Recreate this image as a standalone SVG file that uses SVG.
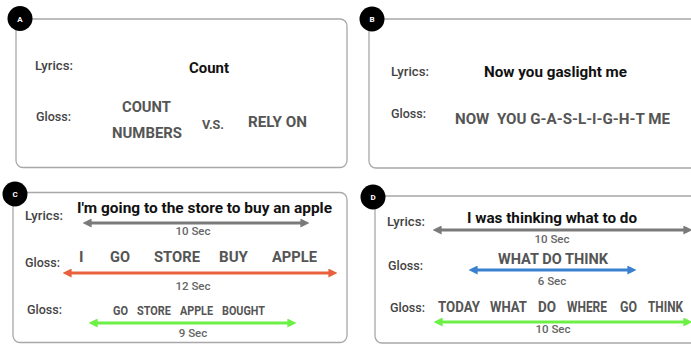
<svg xmlns="http://www.w3.org/2000/svg" width="691" height="345" viewBox="0 0 691 345">
  <style>
    .panel { fill: #ffffff; stroke: #a8a8a8; stroke-width: 1.3; }
    .badge { fill: #000000; }
    .badge-t { font-family: Roboto, "Liberation Sans", sans-serif; font-size: 8px; font-weight: bold; fill: #ffffff; text-anchor: middle; }
    .lab { font-family: Roboto, "Liberation Sans", sans-serif; font-size: 13px; font-weight: 500; fill: #444444; }
    .lyr { font-family: Roboto, "Liberation Sans", sans-serif; font-size: 15.5px; font-weight: bold; fill: #111111; text-anchor: middle; }
    .gl { font-family: Roboto, "Liberation Sans", sans-serif; font-size: 15.5px; font-weight: bold; fill: #555555; }
    .gls { font-family: Roboto, "Liberation Sans", sans-serif; font-size: 12px; font-weight: bold; fill: #555555; }
    .sec { font-family: Roboto, "Liberation Sans", sans-serif; font-size: 11.5px; font-weight: 500; fill: #666666; text-anchor: middle; }
    .arr { stroke-width: 3; fill: none; }
    .gray { stroke: #7a7a7a; }
    .red { stroke: #e9603c; }
    .green { stroke: #6cf046; }
    .blue { stroke: #3a80d0; }
  </style>
  <defs>
    <marker id="hGray" viewBox="0 0 10 10" refX="4" refY="5" markerWidth="9" markerHeight="9" markerUnits="userSpaceOnUse" orient="auto-start-reverse">
      <path d="M0,0 L10,5 L0,10 z" fill="#7a7a7a"/>
    </marker>
    <marker id="hRed" viewBox="0 0 10 10" refX="4" refY="5" markerWidth="9" markerHeight="9" markerUnits="userSpaceOnUse" orient="auto-start-reverse">
      <path d="M0,0 L10,5 L0,10 z" fill="#e9603c"/>
    </marker>
    <marker id="hGreen" viewBox="0 0 10 10" refX="4" refY="5" markerWidth="9" markerHeight="9" markerUnits="userSpaceOnUse" orient="auto-start-reverse">
      <path d="M0,0 L10,5 L0,10 z" fill="#6cf046"/>
    </marker>
    <marker id="hBlue" viewBox="0 0 10 10" refX="4" refY="5" markerWidth="9" markerHeight="9" markerUnits="userSpaceOnUse" orient="auto-start-reverse">
      <path d="M0,0 L10,5 L0,10 z" fill="#3a80d0"/>
    </marker>
  </defs>

  <!-- Panel A -->
  <g id="panelA">
    <rect class="panel" x="16" y="19" width="331" height="148.5" rx="7"/>
    <circle class="badge" cx="20" cy="18.5" r="12.5"/>
    <text class="badge-t" x="20" y="21.5">A</text>
    <text class="lab" x="35" y="70" textLength="38" lengthAdjust="spacingAndGlyphs">Lyrics:</text>
    <text class="lyr" x="209" y="73" textLength="40" lengthAdjust="spacingAndGlyphs">Count</text>
    <text class="lab" x="36" y="121" textLength="35" lengthAdjust="spacingAndGlyphs">Gloss:</text>
    <text class="gl" x="122" y="112" textLength="49" lengthAdjust="spacingAndGlyphs">COUNT</text>
    <text class="gl" x="112" y="138" textLength="70" lengthAdjust="spacingAndGlyphs">NUMBERS</text>
    <text class="gls" x="202" y="129" textLength="22" lengthAdjust="spacingAndGlyphs">V.S.</text>
    <text class="gl" x="248" y="127" textLength="59" lengthAdjust="spacingAndGlyphs">RELY ON</text>
  </g>

  <!-- Panel B -->
  <g id="panelB">
    <rect class="panel" x="369" y="19" width="340" height="149" rx="7"/>
    <circle class="badge" cx="372" cy="19" r="12.5"/>
    <text class="badge-t" x="372" y="22">B</text>
    <text class="lab" x="391" y="76" textLength="38" lengthAdjust="spacingAndGlyphs">Lyrics:</text>
    <text class="lyr" x="555.5" y="77" textLength="143" lengthAdjust="spacingAndGlyphs">Now you gaslight me</text>
    <text class="lab" x="391" y="118" textLength="35" lengthAdjust="spacingAndGlyphs">Gloss:</text>
    <text class="gl" x="455" y="124" textLength="215" lengthAdjust="spacingAndGlyphs" xml:space="preserve">NOW  YOU G-A-S-L-I-G-H-T ME</text>
  </g>

  <!-- Panel C -->
  <g id="panelC">
    <rect class="panel" x="13" y="192.5" width="334" height="150" rx="7"/>
    <circle class="badge" cx="15" cy="194" r="12.5"/>
    <text class="badge-t" x="15" y="197">C</text>
    <text class="lab" x="25" y="220" textLength="38" lengthAdjust="spacingAndGlyphs">Lyrics:</text>
    <text class="lyr" x="204.5" y="213" font-size="16.5" textLength="255" lengthAdjust="spacingAndGlyphs">I'm going to the store to buy an apple</text>
    <text class="sec" x="193" y="235">10 Sec</text>
    <text class="lab" x="25" y="267" textLength="35" lengthAdjust="spacingAndGlyphs">Gloss:</text>
    <text class="gl" x="79" y="262" font-size="16.5">I</text>
    <text class="gl" x="110" y="262" font-size="16.5" textLength="20" lengthAdjust="spacingAndGlyphs">GO</text>
    <text class="gl" x="154" y="262" font-size="16.5" textLength="46" lengthAdjust="spacingAndGlyphs">STORE</text>
    <text class="gl" x="219" y="262" font-size="16.5" textLength="29" lengthAdjust="spacingAndGlyphs">BUY</text>
    <text class="gl" x="272" y="262" font-size="16.5" textLength="45" lengthAdjust="spacingAndGlyphs">APPLE</text>
    <text class="sec" x="193" y="290">12 Sec</text>
    <text class="lab" x="27" y="314" textLength="35" lengthAdjust="spacingAndGlyphs">Gloss:</text>
    <text class="gls" x="113" y="315" textLength="15" lengthAdjust="spacingAndGlyphs">GO</text>
    <text class="gls" x="137" y="315" textLength="34" lengthAdjust="spacingAndGlyphs">STORE</text>
    <text class="gls" x="180" y="315" textLength="33" lengthAdjust="spacingAndGlyphs">APPLE</text>
    <text class="gls" x="222" y="315" textLength="43" lengthAdjust="spacingAndGlyphs">BOUGHT</text>
    <text class="sec" x="193" y="337">9 Sec</text>
  </g>

  <!-- Panel D -->
  <g id="panelD">
    <rect class="panel" x="375" y="196" width="340" height="147" rx="7"/>
    <circle class="badge" cx="373" cy="197" r="12.5"/>
    <text class="badge-t" x="373" y="200">D</text>
    <text class="lab" x="387" y="226" textLength="38" lengthAdjust="spacingAndGlyphs">Lyrics:</text>
    <text class="lyr" x="552" y="223" textLength="170" lengthAdjust="spacingAndGlyphs">I was thinking what to do</text>
    <text class="sec" x="552" y="243">10 Sec</text>
    <text class="lab" x="388" y="270" textLength="35" lengthAdjust="spacingAndGlyphs">Gloss:</text>
    <text class="gl" x="498" y="264" textLength="110" lengthAdjust="spacingAndGlyphs">WHAT DO THINK</text>
    <text class="sec" x="552" y="285">6 Sec</text>
    <text class="lab" x="390" y="312" textLength="35" lengthAdjust="spacingAndGlyphs">Gloss:</text>
    <text class="gl" x="438" y="312" font-size="13.5" textLength="42" lengthAdjust="spacingAndGlyphs">TODAY</text>
    <text class="gl" x="490" y="312" font-size="13.5" textLength="37" lengthAdjust="spacingAndGlyphs">WHAT</text>
    <text class="gl" x="538" y="312" font-size="13.5" textLength="18" lengthAdjust="spacingAndGlyphs">DO</text>
    <text class="gl" x="567" y="312" font-size="13.5" textLength="40" lengthAdjust="spacingAndGlyphs">WHERE</text>
    <text class="gl" x="620" y="312" font-size="13.5" textLength="17" lengthAdjust="spacingAndGlyphs">GO</text>
    <text class="gl" x="648" y="312" font-size="13.5" textLength="35" lengthAdjust="spacingAndGlyphs">THINK</text>
    <text class="sec" x="553" y="333">10 Sec</text>
  </g>

  <!-- Duration arrows -->
  <g id="connectors">
    <line class="arr gray" x1="88" y1="223" x2="304" y2="223" marker-start="url(#hGray)" marker-end="url(#hGray)"/>
    <line class="arr red" x1="68" y1="273" x2="332" y2="273" marker-start="url(#hRed)" marker-end="url(#hRed)"/>
    <line class="arr green" x1="94" y1="323" x2="291" y2="323" marker-start="url(#hGreen)" marker-end="url(#hGreen)"/>
    <line class="arr gray" x1="438" y1="230" x2="687" y2="230" marker-start="url(#hGray)" marker-end="url(#hGray)"/>
    <line class="arr blue" x1="474" y1="270" x2="631" y2="270" marker-start="url(#hBlue)" marker-end="url(#hBlue)"/>
    <line class="arr green" x1="439" y1="322" x2="687" y2="322" marker-start="url(#hGreen)" marker-end="url(#hGreen)"/>
  </g>
</svg>
